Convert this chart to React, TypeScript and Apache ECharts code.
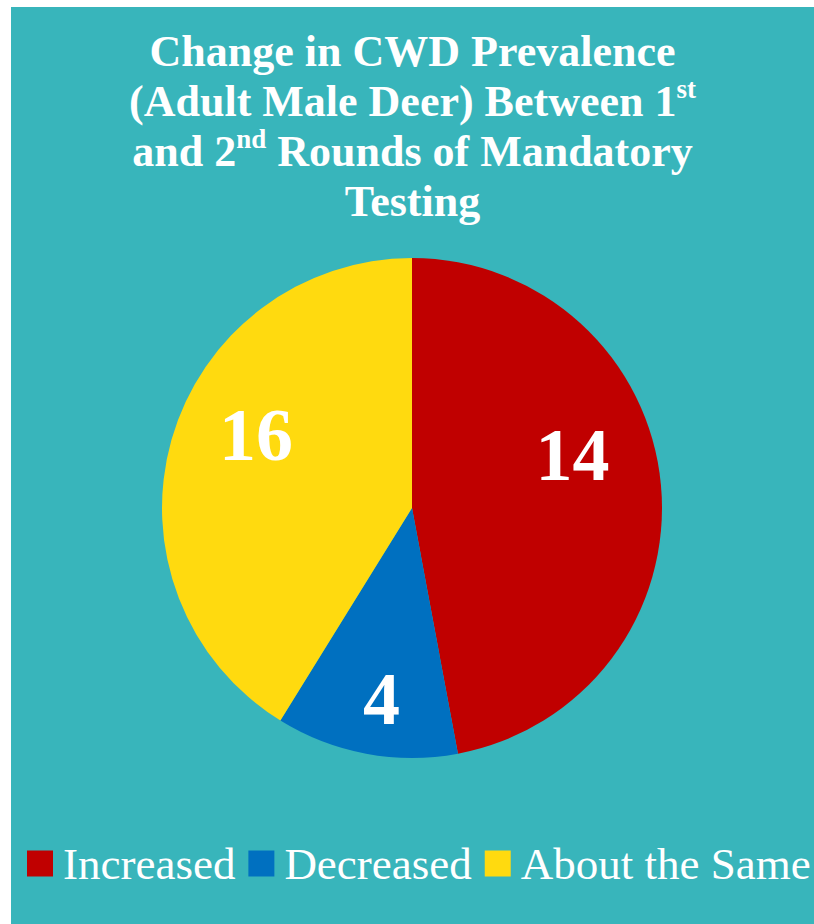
import React, { useEffect, useRef } from "react";
import * as echarts from "echarts";

// Categories in legend / slice order (clockwise from 12 o'clock)
const categories = ["Increased", "Decreased", "About the Same"];
// Slice sizes as drawn in the source picture (angles)
const sliceValues = [16, 4, 14];
// Numbers printed on the slices in the source picture
const printedLabels = ["14", "4", "16"];
const colors = ["#C00000", "#0070C0", "#FFDA0F"];

const titleLines = [
  "Change in CWD Prevalence",
  "(Adult Male Deer) Between 1{sup|st}",
  "and 2{sup|nd} Rounds of Mandatory",
  "Testing",
];

const labelOffsets: [number, number][] = [
  [33, -41],
  [-7, 65],
  [-33, -38],
];

export default function App() {
  const ref = useRef<HTMLDivElement>(null);
  useEffect(() => {
    if (!ref.current) return;
    const chart = echarts.init(ref.current, null, { renderer: "svg" });
    const serif = "'Liberation Serif', 'Times New Roman', serif";
    chart.setOption({
      animation: false,
      backgroundColor: "#38B5BB",
      title: titleLines.map((line, i) => ({
        text: line,
        left: "center",
        top: 18 + i * 50,
        padding: 0,
        textStyle: {
          color: "#FFFFFF",
          fontFamily: serif,
          fontWeight: "bold",
          fontSize: 44,
          lineHeight: 53,
          rich: {
            sup: {
              color: "#FFFFFF",
              fontFamily: serif,
              fontWeight: "bold",
              fontSize: 27,
              lineHeight: 30,
              verticalAlign: "top",
            },
          },
        },
      })),
      legend: {
        bottom: 38,
        left: 16,
        width: 787,
        padding: 0,
        icon: "rect",
        itemWidth: 26,
        itemHeight: 26,
        itemGap: 13,
        data: categories,
        textStyle: {
          color: "#FFFFFF",
          fontFamily: serif,
          fontSize: 45,
          padding: [0, 0, 0, 5],
        },
      },
      series: [
        {
          type: "pie",
          center: [401, 501],
          radius: 250,
          startAngle: 90,
          clockwise: true,
          avoidLabelOverlap: false,
          itemStyle: { borderWidth: 0 },
          label: {
            show: true,
            position: "inside",
            color: "#FFFFFF",
            fontFamily: serif,
            fontWeight: "bold",
            fontSize: 74,
          },
          labelLine: { show: false },
          emphasis: { disabled: true },
          data: categories.map((name, i) => ({
            name,
            value: sliceValues[i],
            itemStyle: { color: colors[i] },
            label: {
              formatter: () => printedLabels[i],
              offset: labelOffsets[i],
            },
          })),
        },
      ],
    });
    return () => chart.dispose();
  }, []);
  return (
    <div
      ref={ref}
      style={{ position: "absolute", left: 11, top: 7, width: 803, height: 917 }}
    />
  );
}
